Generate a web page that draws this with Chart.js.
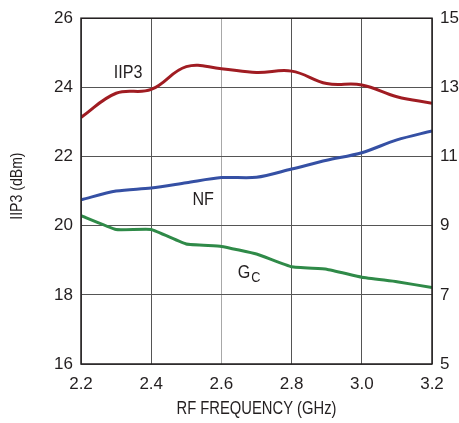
<!DOCTYPE html>
<html>
<head>
<meta charset="utf-8">
<script src="https://cdn.jsdelivr.net/npm/chart.js@4"></script>
<style>
  html, body { margin: 0; padding: 0; background: #fff; }
  #wrap { width: 459px; height: 423px; }
</style>
</head>
<body>
<div id="wrap"><canvas id="chart" width="459" height="423"></canvas></div>
<script>
// RF frequency (GHz)
const freqs = [2.2, 2.3, 2.4, 2.5, 2.6, 2.7, 2.8, 2.9, 3.0, 3.1, 3.2];
// left axis, dBm
const iip3 = [23.13, 23.83, 23.94, 24.6, 24.54, 24.43, 24.47, 24.11, 24.07, 23.73, 23.54];
// right axis, dB
const nf = [9.75, 10.0, 10.09, 10.24, 10.39, 10.4, 10.64, 10.89, 11.11, 11.48, 11.74];
const gc = [9.29, 8.89, 8.89, 8.47, 8.4, 8.18, 7.81, 7.74, 7.51, 7.38, 7.21];

const xTicks = [2.2, 2.4, 2.6, 2.8, 3.0, 3.2];
const leftTicks = [16, 18, 20, 22, 24, 26];
const rightTicks = [5, 7, 9, 11, 13, 15];

const FONT = "'Liberation Sans', Arial, sans-serif";
const TXT = '#231f20';

function pts(ys) {
    return freqs.map((f, i) => ({ x: f, y: ys[i] }));
}

// curve labels, placed in data units
const curveLabels = [
    { text: 'IIP3', x: 2.334, y: 24.43, axis: 'y' },
    { text: 'NF', x: 2.548, y: 9.76, axis: 'y1' },
    { text: 'G', sub: 'C', x: 2.677, y: 7.63, axis: 'y1' }
];

// draw text squeezed sideways, the original uses a condensed face
function narrowText(ctx, text, x, y, sx) {
    ctx.save();
    ctx.translate(x, y);
    ctx.scale(sx, 1);
    ctx.fillText(text, 0, 0);
    ctx.restore();
}

const labelPlugin = {
    id: 'curveLabels',
    afterDatasetsDraw(chart) {
        const ctx = chart.ctx;
        ctx.save();
        ctx.fillStyle = TXT;
        ctx.textBaseline = 'middle';
        curveLabels.forEach(l => {
            const px = chart.scales.x.getPixelForValue(l.x);
            const py = chart.scales[l.axis].getPixelForValue(l.y);
            ctx.font = '19px ' + FONT;
            if (l.sub) {
                const w = ctx.measureText(l.text).width * 0.85;
                ctx.textAlign = 'left';
                const x0 = px - (w + 9) / 2;
                narrowText(ctx, l.text, x0, py, 0.85);
                ctx.font = '15px ' + FONT;
                narrowText(ctx, l.sub, x0 + w + 1, py + 5, 0.85);
            } else {
                ctx.textAlign = 'center';
                narrowText(ctx, l.text, px, py, 0.85);
            }
        });
        ctx.restore();
    }
};

// axis titles
const titles = {
    id: 'titles',
    afterDraw(chart) {
        const a = chart.chartArea;
        const ctx = chart.ctx;
        ctx.save();
        ctx.fillStyle = TXT;
        ctx.textAlign = 'center';
        ctx.textBaseline = 'middle';
        ctx.font = '18px ' + FONT;
        narrowText(ctx, 'RF FREQUENCY (GHz)', (a.left + a.right) / 2, 409, 0.82);
        ctx.translate(18, (a.top + a.bottom) / 2 - 5);
        ctx.rotate(-Math.PI / 2);
        ctx.font = '16px ' + FONT;
        narrowText(ctx, 'IIP3 (dBm)', 0, 0, 0.88);
        ctx.restore();
    }
};

const frame = {
    id: 'frame',
    afterDatasetsDraw(chart) {
        const a = chart.chartArea;
        const ctx = chart.ctx;
        ctx.save();
        ctx.strokeStyle = '#231f20';
        ctx.lineWidth = 1.5;
        ctx.strokeRect(a.left, a.top, a.right - a.left, a.bottom - a.top);
        ctx.restore();
    }
};

new Chart(document.getElementById('chart'), {
    type: 'line',
    data: {
        datasets: [
            { label: 'IIP3', data: pts(iip3), yAxisID: 'y', borderColor: '#a01c22', borderWidth: 3, tension: 0.4, pointRadius: 0 },
            { label: 'NF', data: pts(nf), yAxisID: 'y1', borderColor: '#3550a4', borderWidth: 3, tension: 0.3, pointRadius: 0 },
            { label: 'GC', data: pts(gc), yAxisID: 'y1', borderColor: '#2f8a48', borderWidth: 3, tension: 0.1, pointRadius: 0 }
        ]
    },
    options: {
        responsive: false,
        animation: false,
        layout: { padding: { top: 14, left: 0, right: 0, bottom: 0 } },
        plugins: { legend: { display: false }, tooltip: { enabled: false } },
        scales: {
            x: {
                type: 'linear',
                min: 2.2,
                max: 3.2,
                afterBuildTicks: s => { s.ticks = xTicks.map(v => ({ value: v })); },
                afterFit: s => { s.height = 59; },
                border: { display: false },
                grid: {
                    color: c => (c.tick && Math.abs(c.tick.value - 2.6) < 1e-6) ? '#a8a8a8' : '#555',
                    lineWidth: 1,
                    drawTicks: false
                },
                ticks: {
                    color: TXT,
                    font: { family: FONT, size: 17 },
                    padding: 10,
                    maxRotation: 0,
                    callback: v => v.toFixed(1)
                }
            },
            y: {
                position: 'left',
                min: 16,
                max: 26,
                afterBuildTicks: s => { s.ticks = leftTicks.map(v => ({ value: v })); },
                afterFit: s => { s.width = 81; },
                border: { display: false },
                grid: { color: '#555', lineWidth: 1, drawTicks: false },
                ticks: {
                    color: TXT,
                    font: { family: FONT, size: 17 },
                    padding: 8
                }
            },
            y1: {
                position: 'right',
                min: 5,
                max: 15,
                afterBuildTicks: s => { s.ticks = rightTicks.map(v => ({ value: v })); },
                afterFit: s => { s.width = 27; },
                border: { display: false },
                grid: { display: false, drawTicks: false },
                ticks: {
                    color: TXT,
                    font: { family: FONT, size: 17 },
                    padding: 8
                }
            }
        }
    },
    plugins: [labelPlugin, titles, frame]
});
</script>
</body>
</html>
